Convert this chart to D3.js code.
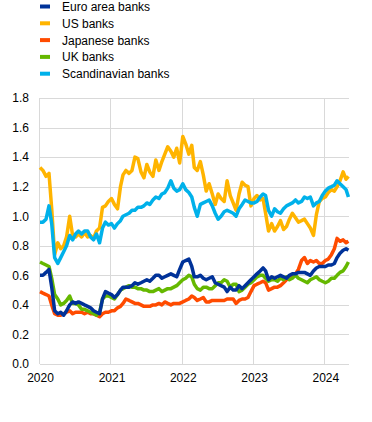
<!DOCTYPE html>
<html>
<head>
<meta charset="utf-8">
<script src="https://cdn.jsdelivr.net/npm/d3@7"></script>
<style>
  html, body { margin: 0; padding: 0; background: #fff; }
  svg { display: block; }
  text { font-family: "Liberation Sans", Arial, sans-serif; }
</style>
</head>
<body>
<svg id="chart" width="372" height="422"></svg>
<script>
// Observation dates: 1st and 16th of each month from Jan 2020 to Apr 2024, plus last observation
const dates = [];
for (let m = 0; m < 52; m++) { dates.push(new Date(2020, m, 1)); dates.push(new Date(2020, m, 16)); }
dates.push(new Date(2024, 3, 28));

const seriesNames = ["Euro area banks", "US banks", "Japanese banks", "UK banks", "Scandinavian banks"];
const seriesColors = ["#003299", "#ffb400", "#ff4b00", "#65b800", "#00b1ea"];

const euroArea = [
  0.60,0.60,0.62,0.64,0.52,0.36,0.34,0.35,0.33,0.36,
  0.40,0.42,0.41,0.42,0.41,0.40,0.39,0.38,0.36,0.35,
  0.34,0.44,0.49,0.48,0.47,0.45,0.47,0.50,0.52,0.52,
  0.52,0.53,0.55,0.54,0.55,0.56,0.57,0.56,0.58,0.60,
  0.60,0.58,0.59,0.60,0.61,0.60,0.59,0.64,0.69,0.70,
  0.71,0.66,0.59,0.59,0.60,0.58,0.57,0.58,0.59,0.55,
  0.54,0.53,0.52,0.49,0.52,0.50,0.50,0.53,0.51,0.53,
  0.55,0.57,0.59,0.61,0.63,0.65,0.63,0.57,0.59,0.58,
  0.59,0.60,0.59,0.58,0.60,0.61,0.61,0.62,0.62,0.62,
  0.61,0.60,0.63,0.65,0.66,0.66,0.66,0.67,0.67,0.68,
  0.72,0.75,0.77,0.78,0.77
];
const usBanks = [
  1.33,1.31,1.27,1.29,1.05,0.74,0.82,0.78,0.80,0.86,
  1.00,0.87,0.86,0.88,0.86,0.89,0.86,0.87,0.85,0.90,
  0.92,1.06,1.07,1.10,1.12,1.08,1.05,1.20,1.28,1.31,
  1.29,1.31,1.40,1.39,1.30,1.26,1.35,1.30,1.27,1.38,
  1.31,1.37,1.42,1.47,1.44,1.40,1.46,1.36,1.54,1.49,
  1.42,1.48,1.33,1.31,1.37,1.28,1.17,1.22,1.15,1.08,
  1.15,1.12,1.10,1.24,1.14,1.09,1.04,1.15,1.23,1.21,
  1.20,1.07,1.12,1.14,1.11,1.12,1.02,0.90,0.95,0.90,
  0.93,0.97,0.91,0.93,0.98,1.02,0.99,0.96,0.97,0.98,
  0.95,0.92,0.87,1.01,1.10,1.12,1.13,1.16,1.18,1.17,
  1.20,1.24,1.30,1.25,1.27
];
const japaneseBanks = [
  0.49,0.48,0.47,0.46,0.40,0.34,0.33,0.33,0.34,0.35,
  0.36,0.34,0.35,0.35,0.35,0.34,0.35,0.34,0.34,0.33,
  0.32,0.34,0.35,0.35,0.36,0.36,0.38,0.39,0.41,0.44,
  0.43,0.42,0.41,0.41,0.40,0.39,0.39,0.39,0.40,0.40,
  0.41,0.40,0.42,0.41,0.40,0.41,0.41,0.41,0.42,0.43,
  0.44,0.46,0.45,0.43,0.44,0.45,0.42,0.42,0.43,0.43,
  0.43,0.43,0.43,0.44,0.44,0.44,0.41,0.43,0.44,0.44,
  0.45,0.49,0.53,0.54,0.55,0.56,0.55,0.50,0.51,0.52,
  0.52,0.53,0.55,0.57,0.58,0.60,0.61,0.64,0.70,0.72,
  0.68,0.70,0.69,0.70,0.68,0.68,0.70,0.71,0.74,0.78,
  0.85,0.83,0.84,0.82,0.83
];
const ukBanks = [
  0.69,0.68,0.67,0.66,0.58,0.47,0.44,0.40,0.41,0.43,
  0.46,0.41,0.41,0.40,0.37,0.37,0.36,0.35,0.34,0.33,
  0.35,0.44,0.46,0.46,0.45,0.44,0.47,0.50,0.51,0.52,
  0.53,0.52,0.52,0.51,0.51,0.50,0.50,0.49,0.49,0.50,
  0.51,0.49,0.50,0.51,0.51,0.52,0.53,0.55,0.57,0.58,
  0.60,0.59,0.54,0.51,0.50,0.52,0.52,0.51,0.51,0.53,
  0.55,0.55,0.57,0.56,0.52,0.54,0.54,0.49,0.50,0.52,
  0.54,0.55,0.57,0.59,0.60,0.60,0.58,0.56,0.57,0.57,
  0.56,0.58,0.57,0.59,0.57,0.58,0.60,0.58,0.57,0.56,
  0.55,0.57,0.58,0.59,0.57,0.56,0.55,0.56,0.58,0.58,
  0.60,0.62,0.63,0.66,0.69
];
const scandinavianBanks = [
  0.96,0.96,0.98,1.07,0.95,0.72,0.68,0.72,0.76,0.80,
  0.87,0.84,0.88,0.90,0.88,0.90,0.90,0.86,0.84,0.88,
  0.82,0.92,0.96,0.94,0.95,0.92,0.95,0.97,1.00,1.01,
  1.02,1.04,1.04,1.06,1.06,1.07,1.09,1.08,1.11,1.13,
  1.12,1.15,1.16,1.19,1.24,1.19,1.17,1.18,1.22,1.18,
  1.16,1.13,1.06,1.00,1.08,1.09,1.10,1.11,1.07,1.02,
  0.98,1.00,1.03,1.04,1.03,1.02,1.00,1.05,1.08,1.11,
  1.10,1.09,1.09,1.10,1.13,1.15,1.14,1.04,1.00,1.05,
  1.03,1.02,1.05,1.07,1.08,1.09,1.11,1.09,1.10,1.13,
  1.12,1.13,1.07,1.09,1.10,1.14,1.17,1.19,1.20,1.21,
  1.24,1.22,1.20,1.18,1.13
];
const seriesValues = [euroArea, usBanks, japaneseBanks, ukBanks, scandinavianBanks];

const yTicks = [0, 0.2, 0.4, 0.6, 0.8, 1.0, 1.2, 1.4, 1.6, 1.8];
const xTickYears = [2020, 2021, 2022, 2023, 2024];

(function () {
const svg = d3.select("#chart");
const pLeft = 40, pRight = 349, pTop = 98, pBottom = 364;

const x = d3.scaleTime()
  .domain([new Date(2020, 0, 1), new Date(2024, 4, 1)])
  .range([pLeft, pRight]);
const y = d3.scaleLinear().domain([0, 1.8]).range([pBottom, pTop]);

// Grid
const grid = svg.append("g");
grid.selectAll("line.h").data(yTicks).join("line")
  .attr("x1", pLeft).attr("x2", pRight)
  .attr("y1", d => Math.round(y(d)) + 0.5).attr("y2", d => Math.round(y(d)) + 0.5)
  .attr("stroke", "#d9d9d9").attr("stroke-width", 1);
grid.selectAll("line.v").data(xTickYears).join("line")
  .attr("x1", d => Math.round(x(new Date(d, 0, 1))) - 0.5)
  .attr("x2", d => Math.round(x(new Date(d, 0, 1))) - 0.5)
  .attr("y1", pTop).attr("y2", pBottom)
  .attr("stroke", "#d9d9d9").attr("stroke-width", 1);

// Y axis labels
const yAxis = d3.axisLeft(y).tickValues(yTicks).tickFormat(d3.format(".1f")).tickSize(0).tickPadding(11);
const gy = svg.append("g").attr("transform", `translate(${pLeft},0)`).call(yAxis);
gy.select(".domain").remove();
gy.selectAll("text").attr("font-size", 12).attr("fill", "#000")
  .attr("font-family", "Liberation Sans, Arial, sans-serif");

// X axis labels
const xAxis = d3.axisBottom(x).tickValues(xTickYears.map(yr => new Date(yr, 0, 1)))
  .tickFormat(d3.timeFormat("%Y")).tickSize(0).tickPadding(9);
const gx = svg.append("g").attr("transform", `translate(0,${pBottom})`).call(xAxis);
gx.select(".domain").remove();
gx.selectAll("text").attr("font-size", 12).attr("fill", "#000")
  .attr("font-family", "Liberation Sans, Arial, sans-serif");

// Lines
const line = d3.line().x((d, i) => x(dates[i])).y(d => y(d));
const drawOrder = [1, 2, 3, 4, 0];
drawOrder.forEach(k => {
  svg.append("path")
    .datum(seriesValues[k])
    .attr("d", line)
    .attr("fill", "none")
    .attr("stroke", seriesColors[k])
    .attr("stroke-width", 3.5)
    .attr("stroke-linejoin", "round");
});

// Legend
const legend = svg.append("g");
seriesNames.forEach((name, i) => {
  const cy = 6.5 + i * 16.8;
  legend.append("rect").attr("x", 40).attr("y", cy - 2).attr("width", 10).attr("height", 4)
    .attr("fill", seriesColors[i]);
  legend.append("text").attr("x", 62).attr("y", cy + 4.5).attr("font-size", 12)
    .attr("fill", "#000").text(name);
});
})();
</script>
</body>
</html>
